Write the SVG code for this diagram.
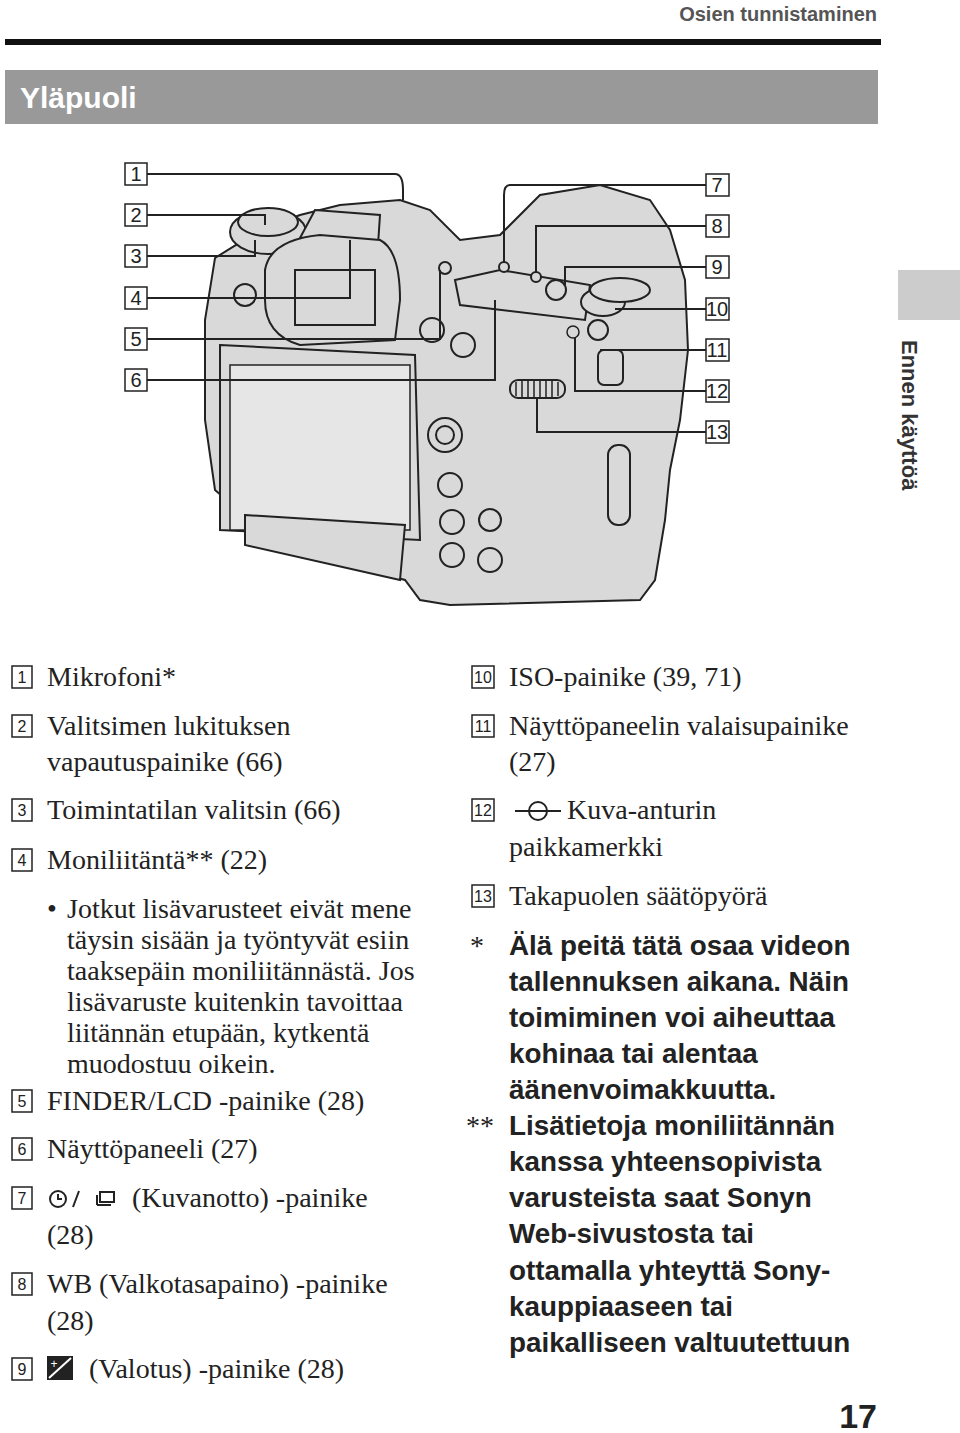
<svg xmlns="http://www.w3.org/2000/svg" width="960" height="1433" viewBox="0 0 960 1433">
<style>
.hd{font-family:"Liberation Sans",sans-serif;font-weight:bold}
.t{font-family:"Liberation Serif",serif;font-size:28px;fill:#222}
.b{font-family:"Liberation Sans",sans-serif;font-size:27.8px;font-weight:bold;fill:#222}
.nb{fill:#fff;stroke:#222;stroke-width:1.5}
.nt{font-family:"Liberation Sans",sans-serif;font-size:20px;fill:#222;text-anchor:middle}
.lt{font-family:"Liberation Sans",sans-serif;font-size:16px;fill:#222;text-anchor:middle}
.cam{fill:#d9d9d9;stroke:#222;stroke-width:2}
.cl{fill:none;stroke:#222;stroke-width:1.5}
.btn{fill:#d9d9d9;stroke:#222;stroke-width:2}
.ld{fill:none;stroke:#222;stroke-width:2}
</style>
<rect width="960" height="1433" fill="#fff"/>
<text class="hd" x="877" y="21" font-size="20" fill="#555" text-anchor="end">Osien tunnistaminen</text>
<rect x="5" y="39" width="876" height="6" fill="#111"/>
<rect x="5" y="70" width="873" height="54" fill="#999"/>
<text class="hd" x="20" y="108" font-size="30" fill="#fff" font-weight="normal">Yläpuoli</text>
<rect x="898" y="270" width="62" height="50" fill="#ccc"/>
<text class="hd" font-size="22" fill="#333" transform="translate(902,340) rotate(90)">Ennen käyttöä</text>

<g id="camera">
<path class="cam" d="M215,258 L260,230 L300,215 L340,205 L400,200 L430,210 L460,240 L500,235 L540,195 L600,185 L650,200 L670,230 L685,280 L688,350 L680,420 L670,470 L665,520 L655,580 L640,600 L450,605 L420,600 L405,580 L270,545 L250,520 L215,490 L205,420 L205,320 Z"/>
<ellipse class="cam" cx="268" cy="232" rx="38" ry="22"/>
<ellipse class="cam" cx="268" cy="222" rx="30" ry="14"/>
<path class="cam" d="M300,238 L315,210 L380,215 L378,245 Z"/>
<path class="cam" d="M265,270 Q270,240 320,235 L380,240 Q400,250 400,300 L395,340 L300,345 Q265,335 265,300 Z"/>
<rect class="cam" x="295" y="270" width="80" height="55"/>
<path class="cam" d="M220,345 L415,355 L420,540 L220,530 Z"/>
<rect x="230" y="365" width="180" height="165" fill="#e6e6e6" stroke="#222" stroke-width="1.5"/>
<path class="cam" d="M245,515 L405,525 L400,580 L245,545 Z"/>
<path class="cam" d="M455,280 L500,270 L590,285 L585,320 L460,305 Z"/>
<circle class="btn" cx="445" cy="435" r="17"/><circle class="btn" cx="445" cy="435" r="9"/>
<circle class="btn" cx="463" cy="345" r="12"/>
<circle class="btn" cx="450" cy="485" r="12"/>
<circle class="btn" cx="452" cy="522" r="12"/>
<circle class="btn" cx="452" cy="555" r="12"/>
<circle class="btn" cx="490" cy="560" r="12"/>
<circle class="btn" cx="490" cy="520" r="11"/>
<circle class="btn" cx="432" cy="330" r="12"/>
<circle class="btn" cx="245" cy="295" r="11"/>
<circle class="btn" cx="445" cy="268" r="6"/>
<circle class="btn" cx="556" cy="290" r="10"/>
<ellipse class="btn" cx="603" cy="302" rx="22" ry="14"/>
<circle class="btn" cx="598" cy="330" r="10"/>
<ellipse class="btn" cx="620" cy="290" rx="30" ry="12"/>
<rect class="btn" x="510" y="380" width="55" height="18" rx="8"/>
<path class="cl" d="M516,382 v14 M522,381 v16 M528,380 v17 M534,380 v17 M540,380 v17 M546,380 v17 M552,381 v16 M558,382 v14"/>
<rect class="btn" x="598" y="350" width="25" height="35" rx="6"/>
<rect class="btn" x="608" y="445" width="22" height="80" rx="10"/>
<circle cx="573" cy="332" r="6" fill="none" stroke="#222" stroke-width="1.5"/>
<circle cx="504" cy="267" r="5" class="btn"/><circle cx="536" cy="277" r="5" class="btn"/>
</g>

<g id="connectors">
<path class="ld" d="M147,174 H395 Q403,174 403,190 V200"/>
<path class="ld" d="M147,215 H265 V225"/>
<path class="ld" d="M147,256 H255 V240"/>
<path class="ld" d="M147,298 H350 V240"/>
<path class="ld" d="M147,339 H440 V270"/>
<path class="ld" d="M147,380 H495 V300"/>
<path class="ld" d="M706,185 H510 Q504,185 504,195 V262"/>
<path class="ld" d="M706,226 H536 V272"/>
<path class="ld" d="M706,267 H565 V285"/>
<path class="ld" d="M706,309 H615"/>
<path class="ld" d="M706,350 H600"/>
<path class="ld" d="M706,391 H575 V338"/>
<path class="ld" d="M706,432 H537 V398"/>
</g>

<g id="callouts">
<rect class="nb" x="125" y="163" width="22" height="22"/><text class="nt" x="136" y="181">1</text>
<rect class="nb" x="125" y="204" width="22" height="22"/><text class="nt" x="136" y="222">2</text>
<rect class="nb" x="125" y="245" width="22" height="22"/><text class="nt" x="136" y="263">3</text>
<rect class="nb" x="125" y="287" width="22" height="22"/><text class="nt" x="136" y="305">4</text>
<rect class="nb" x="125" y="328" width="22" height="22"/><text class="nt" x="136" y="346">5</text>
<rect class="nb" x="125" y="369" width="22" height="22"/><text class="nt" x="136" y="387">6</text>
<rect class="nb" x="706" y="174" width="23" height="22"/><text class="nt" x="717" y="192">7</text>
<rect class="nb" x="706" y="215" width="23" height="22"/><text class="nt" x="717" y="233">8</text>
<rect class="nb" x="706" y="256" width="23" height="22"/><text class="nt" x="717" y="274">9</text>
<rect class="nb" x="706" y="298" width="23" height="22"/><text class="nt" x="717" y="316">10</text>
<rect class="nb" x="706" y="339" width="23" height="22"/><text class="nt" x="717" y="357">11</text>
<rect class="nb" x="706" y="380" width="23" height="22"/><text class="nt" x="717" y="398">12</text>
<rect class="nb" x="706" y="421" width="23" height="22"/><text class="nt" x="717" y="439">13</text>
</g>

<g id="list-left">
<rect class="nb" x="12" y="666" width="20" height="22"/><text class="lt" x="22" y="683">1</text>
<text class="t" x="47" y="686">Mikrofoni*</text>
<rect class="nb" x="12" y="715" width="20" height="22"/><text class="lt" x="22" y="732">2</text>
<text class="t" x="47" y="735">Valitsimen lukituksen</text>
<text class="t" x="47" y="771">vapautuspainike (66)</text>
<rect class="nb" x="12" y="799" width="20" height="22"/><text class="lt" x="22" y="816">3</text>
<text class="t" x="47" y="819">Toimintatilan valitsin (66)</text>
<rect class="nb" x="12" y="849" width="20" height="22"/><text class="lt" x="22" y="866">4</text>
<text class="t" x="47" y="869">Moniliitäntä** (22)</text>
<text class="t" x="47" y="918">•</text>
<text class="t" x="67" y="918" fill="#444">Jotkut lisävarusteet eivät mene</text>
<text class="t" x="67" y="949" fill="#444">täysin sisään ja työntyvät esiin</text>
<text class="t" x="67" y="980" fill="#444">taaksepäin moniliitännästä. Jos</text>
<text class="t" x="67" y="1011" fill="#444">lisävaruste kuitenkin tavoittaa</text>
<text class="t" x="67" y="1042" fill="#444">liitännän etupään, kytkentä</text>
<text class="t" x="67" y="1073" fill="#444">muodostuu oikein.</text>
<rect class="nb" x="12" y="1090" width="20" height="22"/><text class="lt" x="22" y="1107">5</text>
<text class="t" x="47" y="1110">FINDER/LCD -painike (28)</text>
<rect class="nb" x="12" y="1138" width="20" height="22"/><text class="lt" x="22" y="1155">6</text>
<text class="t" x="47" y="1158">Näyttöpaneeli (27)</text>
<rect class="nb" x="12" y="1187" width="20" height="22"/><text class="lt" x="22" y="1204">7</text>
<g fill="none" stroke="#222" stroke-width="2"><circle cx="58" cy="1199" r="8"/><path d="M58,1194 v5 h4 M73,1207 l6,-16"/><rect x="100" y="1192" width="14" height="10"/><path d="M97,1205 h14 M97,1195 v10"/></g>
<text class="t" x="132" y="1207">(Kuvanotto) -painike</text>
<text class="t" x="47" y="1244">(28)</text>
<rect class="nb" x="12" y="1273" width="20" height="22"/><text class="lt" x="22" y="1290">8</text>
<text class="t" x="47" y="1293">WB (Valkotasapaino) -painike</text>
<text class="t" x="47" y="1330">(28)</text>
<rect class="nb" x="12" y="1358" width="20" height="22"/><text class="lt" x="22" y="1375">9</text>
<rect x="47" y="1356" width="26" height="24" fill="#222"/><path d="M49,1378 L71,1358" stroke="#fff" stroke-width="2"/>
<text x="54" y="1368" font-family="Liberation Sans,sans-serif" font-size="12" fill="#fff" text-anchor="middle">+</text>
<text class="t" x="89" y="1378">(Valotus) -painike (28)</text>
</g>

<g id="list-right">
<rect class="nb" x="472" y="666" width="22" height="22"/><text class="lt" x="483" y="683">10</text>
<text class="t" x="509" y="686">ISO-painike (39, 71)</text>
<rect class="nb" x="472" y="715" width="22" height="22"/><text class="lt" x="483" y="732">11</text>
<text class="t" x="509" y="735">Näyttöpaneelin valaisupainike</text>
<text class="t" x="509" y="771">(27)</text>
<rect class="nb" x="472" y="799" width="22" height="22"/><text class="lt" x="483" y="816">12</text>
<g fill="none" stroke="#222" stroke-width="2"><circle cx="538" cy="811" r="9"/><path d="M515,811 h46"/></g>
<text class="t" x="567" y="819">Kuva-anturin</text>
<text class="t" x="509" y="856">paikkamerkki</text>
<rect class="nb" x="472" y="885" width="22" height="22"/><text class="lt" x="483" y="902">13</text>
<text class="t" x="509" y="905">Takapuolen säätöpyörä</text>
<text class="t" x="470" y="955">*</text>
<text class="b" x="509" y="955">Älä peitä tätä osaa videon</text>
<text class="b" x="509" y="991">tallennuksen aikana. Näin</text>
<text class="b" x="509" y="1027">toimiminen voi aiheuttaa</text>
<text class="b" x="509" y="1063">kohinaa tai alentaa</text>
<text class="b" x="509" y="1099">äänenvoimakkuutta.</text>
<text class="t" x="466" y="1135">**</text>
<text class="b" x="509" y="1135">Lisätietoja moniliitännän</text>
<text class="b" x="509" y="1171">kanssa yhteensopivista</text>
<text class="b" x="509" y="1207">varusteista saat Sonyn</text>
<text class="b" x="509" y="1243">Web-sivustosta tai</text>
<text class="b" x="509" y="1280">ottamalla yhteyttä Sony-</text>
<text class="b" x="509" y="1316">kauppiaaseen tai</text>
<text class="b" x="509" y="1352">paikalliseen valtuutettuun</text>
</g>
<text class="hd" x="877" y="1428" font-size="34" fill="#222" text-anchor="end">17</text>
</svg>
